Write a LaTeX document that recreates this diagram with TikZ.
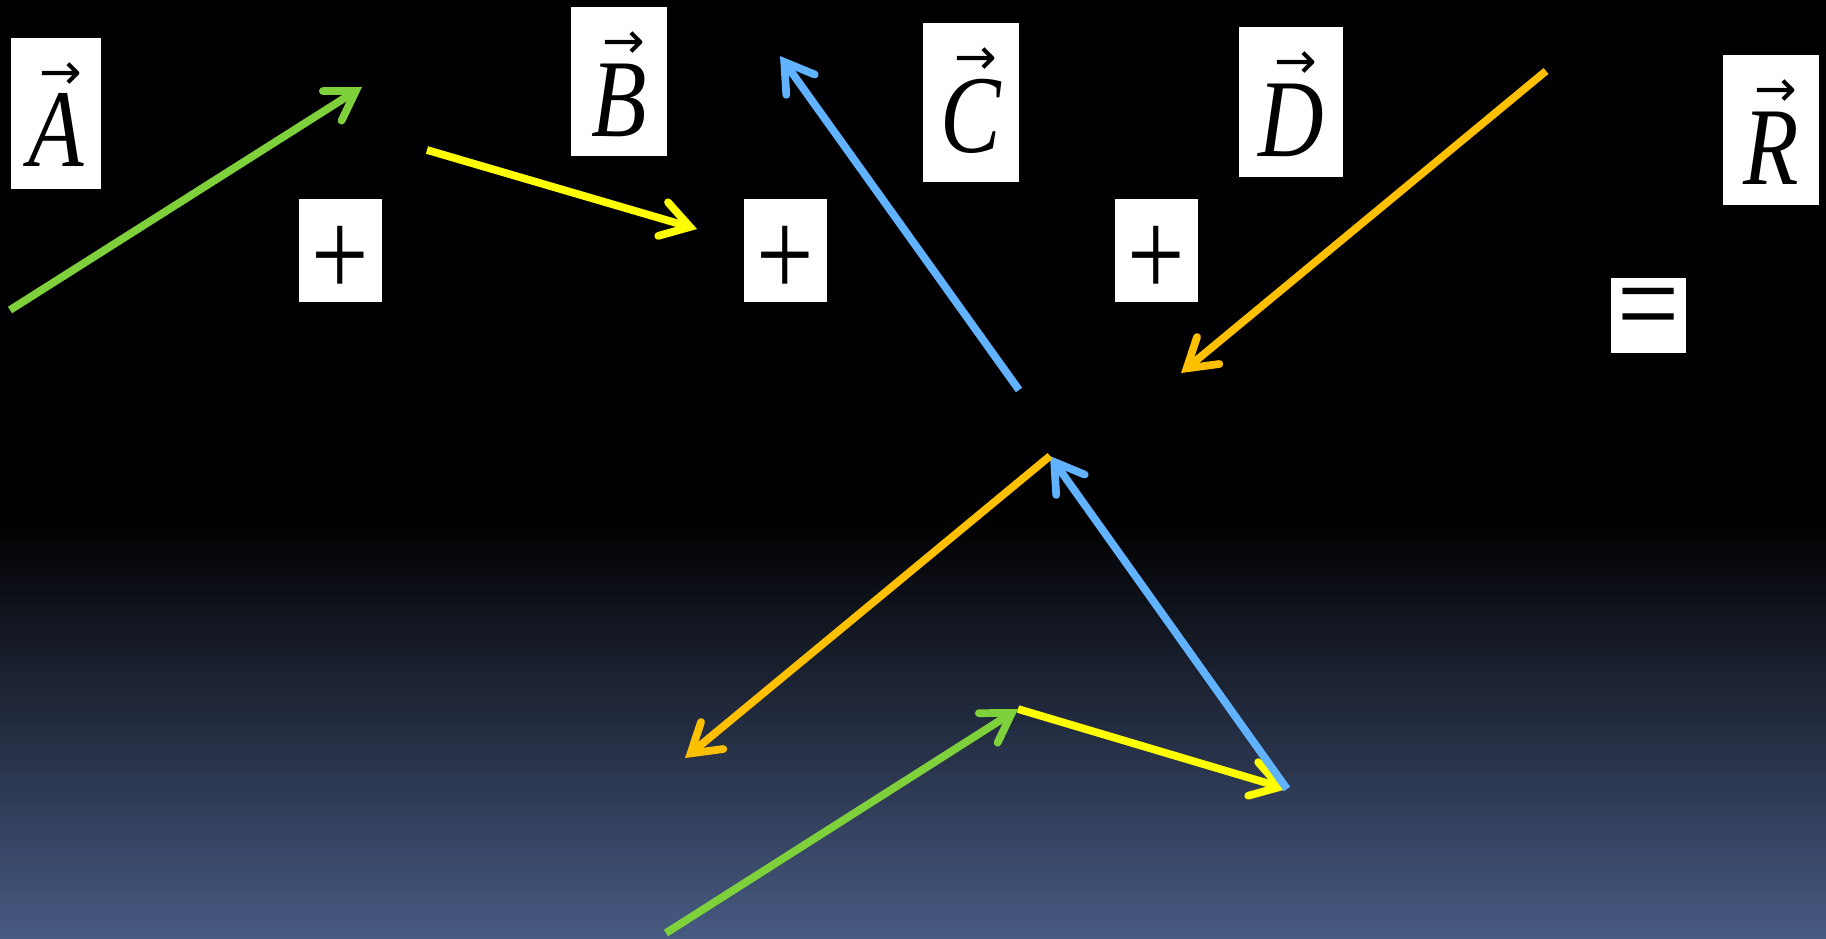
\documentclass[tikz,border=0pt]{standalone}
\usepackage{fontspec}
\setmainfont{Liberation Serif}
\newfontfamily\arrfont{DejaVu Sans}
\usepackage{graphicx}
\usetikzlibrary{arrows.meta}
\definecolor{vgreen}{HTML}{7FD13B}
\definecolor{vyellow}{HTML}{FFFF00}
\definecolor{vblue}{HTML}{62B3FF}
\definecolor{vorange}{HTML}{FFC000}
\definecolor{bgbottom}{RGB}{71,90,130}
\newcommand\lfont{\fontsize{63}{63}\selectfont\itshape}
\newcommand\afont{\arrfont\fontsize{29}{29}\selectfont}
\newcommand\vlab[1]{\setbox0\hbox{\scalebox{0.82}[1]{\lfont #1}}\rlap{\hbox to\wd0{\hfil\hspace{5pt}\raisebox{44pt}{\afont →}\hfil}}\box0}
\begin{document}
\begin{tikzpicture}[x=0.02cm,y=-0.02cm,
  vbox/.style args={#1/#2}{fill=white, inner sep=0pt, minimum width=#1, text height=2.58cm, text depth=#2},
  sign/.style={fill=white, inner sep=0pt, minimum width=1.66cm, minimum height=2.06cm, font=\fontsize{58}{58}\selectfont},
  eqbox/.style={fill=white, inner sep=0pt, minimum width=1.5cm, minimum height=1.5cm, font=\fontsize{58}{58}\selectfont},
  vec/.style={line width=4.4pt, -{Straight Barb[length=0.56cm,width=0.7cm,line cap=round,line join=miter]}}]
\useasboundingbox (0,0) rectangle (1826,938);
\fill[black] (0,0) rectangle (1826,938);
\shade[top color=black, bottom color=bgbottom] (0,520) rectangle (1826,938);

% labels
\node[vbox=1.81cm/0.44cm] (A) at (56,113.5) {\vlab{A}};
\node[vbox=1.92cm/0.40cm] (B) at (619,81.5) {\vlab{B}};
\node[vbox=1.92cm/0.60cm] (C) at (971,102.5) {\vlab{C}};
\node[vbox=2.08cm/0.42cm] (D) at (1291,102) {\vlab{D}};
\node[vbox=1.92cm/0.42cm] (R) at (1771,130) {\vlab{R}};
\node[sign] (p1) at (340.5,250.5) {\raisebox{-6pt}[\height][\depth]{\scalebox{1}[1.22]{+}}};
\node[sign] (p2) at (785.5,250.5) {\raisebox{-6pt}[\height][\depth]{\scalebox{1}[1.22]{+}}};
\node[sign] (p3) at (1156,250.5) {\raisebox{-6pt}[\height][\depth]{\scalebox{1}[1.22]{+}}};
\node[eqbox] (eq) at (1648.5,315.5) {\raisebox{-1pt}[\height][\depth]{\scalebox{1.08}[1.25]{=}}};

% top row vectors
\coordinate (a0) at (10,310);   \coordinate (a1) at (362,87);
\coordinate (b0) at (427,150);  \coordinate (b1) at (697,229);
\coordinate (c0) at (1019,390); \coordinate (c1) at (780,56);
\coordinate (d0) at (1546,71);  \coordinate (d1) at (1181,373);
\draw[vec,vgreen] (a0) -- (a1);
\draw[vec,vyellow] (b0) -- (b1);
\draw[vec,vblue] (c0) -- (c1);
\draw[vec,vorange] (d0) -- (d1);

% head-to-tail sum
\coordinate (s0) at (666,933);
\coordinate (s1) at (1018,709);
\coordinate (s2) at (1287,789);
\coordinate (s3) at (1050,456);
\coordinate (s4) at (685,758);
\draw[vec,vgreen] (s0) -- (s1);
\draw[vec,vyellow] (s1) -- (s2);
\draw[vec,vblue] (s2) -- (s3);
\draw[vec,vorange] (s3) -- (s4);
\end{tikzpicture}
\end{document}
